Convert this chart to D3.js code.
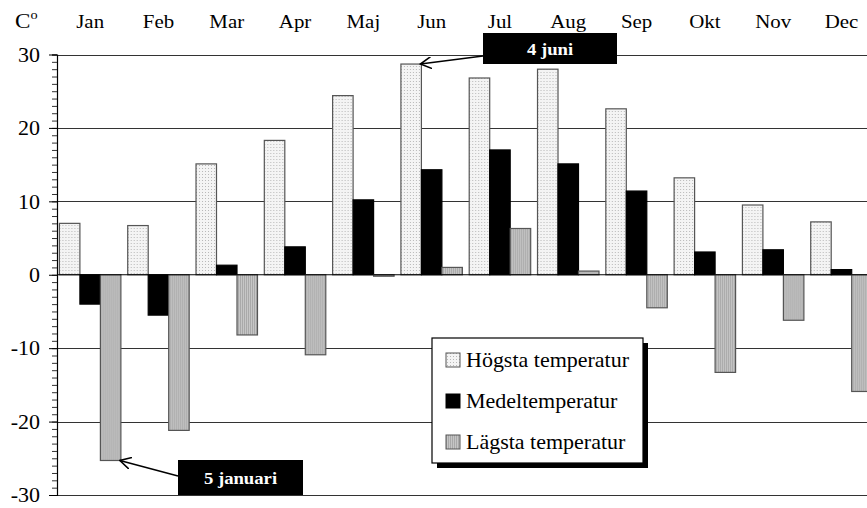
<!DOCTYPE html>
<html>
<head>
<meta charset="utf-8">
<script src="https://cdn.jsdelivr.net/npm/d3@7"></script>
<style>
  body { margin: 0; background: #fff; }
  svg { display: block; }
  svg text { font-family: "Liberation Serif", "Times New Roman", serif; }
</style>
</head>
<body>
<div id="chart"></div>
<script>
// Data.
const months = ["Jan", "Feb", "Mar", "Apr", "Maj", "Jun", "Jul", "Aug", "Sep", "Okt", "Nov", "Dec"];
const seriesNames = ["Högsta temperatur", "Medeltemperatur", "Lägsta temperatur"];
const highTemps = [7.0, 6.7, 15.1, 18.3, 24.4, 28.7, 26.8, 28.0, 22.6, 13.2, 9.5, 7.2];
const meanTemps = [-4.0, -5.5, 1.3, 3.8, 10.2, 14.3, 17.0, 15.1, 11.4, 3.1, 3.4, 0.7];
const lowTemps = [-25.3, -21.2, -8.2, -10.9, -0.2, 1.0, 6.3, 0.5, -4.5, -13.3, -6.2, -15.9];
const yTicks = [-30, -20, -10, 0, 10, 20, 30];
const notes = [
  { text: "4 juni", month: "Jun", series: 0, value: 28.7 },
  { text: "5 januari", month: "Jan", series: 2, value: -25.3 }
];

const width = 867, height = 508;
const serif = "Liberation Serif";
const stretch = 1.1; // text in the original is slightly wide

const svg = d3.select("#chart").append("svg")
  .attr("width", width)
  .attr("height", height)
  .attr("font-family", serif);

// Helper: text placed at (x, y), stretched horizontally.
const addText = (parent, x, y, str, size) => parent.append("text")
  .attr("transform", `translate(${x},${y}) scale(${stretch},1)`)
  .attr("font-family", serif)
  .attr("font-size", size)
  .text(str);

// Patterns for the bar fills.
const defs = svg.append("defs");
const dots = defs.append("pattern")
  .attr("id", "dots").attr("width", 3).attr("height", 3)
  .attr("patternUnits", "userSpaceOnUse");
dots.append("rect").attr("width", 3).attr("height", 3).attr("fill", "#f4f4f4");
dots.append("rect").attr("width", 1).attr("height", 1).attr("fill", "#b8b8b8");
const grey = defs.append("pattern")
  .attr("id", "grey").attr("width", 2).attr("height", 2)
  .attr("patternUnits", "userSpaceOnUse");
grey.append("rect").attr("width", 2).attr("height", 2).attr("fill", "#c6c6c6");
grey.append("rect").attr("width", 1).attr("height", 2).attr("fill", "#a9a9a9");

const fills = ["url(#dots)", "#000", "url(#grey)"];
const strokes = ["#555", "#000", "#555"];

// Scales.
const axisX = 57;
const xScale = d3.scaleBand()
  .domain(months)
  .range([56, 56 + 12 * 68.3])
  .paddingInner(0.1)
  .paddingOuter(0.05);
const xSeries = d3.scaleBand()
  .domain(d3.range(3))
  .range([0, xScale.bandwidth()]);
const yScale = d3.scaleLinear()
  .domain([-30, 30])
  .range([495, 54.5]);

// Gridlines.
svg.append("g")
  .selectAll("line")
  .data(yTicks.filter(d => d !== 0))
  .join("line")
  .attr("x1", axisX).attr("x2", width)
  .attr("y1", d => Math.round(yScale(d)) + 0.5)
  .attr("y2", d => Math.round(yScale(d)) + 0.5)
  .attr("stroke", "#333")
  .attr("stroke-width", 1.2);

// Bars.
const rows = months.map((m, i) => [highTemps[i], meanTemps[i], lowTemps[i]].map((v, s) => ({ month: m, s, v })));
svg.append("g")
  .selectAll("g")
  .data(rows)
  .join("g")
  .attr("transform", d => `translate(${xScale(d[0].month)},0)`)
  .selectAll("rect")
  .data(d => d)
  .join("rect")
  .attr("x", d => xSeries(d.s))
  .attr("width", xSeries.bandwidth())
  .attr("y", d => yScale(Math.max(0, d.v)))
  .attr("height", d => Math.abs(yScale(d.v) - yScale(0)))
  .attr("fill", d => fills[d.s])
  .attr("stroke", d => strokes[d.s])
  .attr("stroke-width", 1.2);

// Zero line.
svg.append("line")
  .attr("x1", axisX).attr("x2", width)
  .attr("y1", yScale(0)).attr("y2", yScale(0))
  .attr("stroke", "#000")
  .attr("stroke-width", 1.2);

// Y-axis: minor ticks every degree, labels every ten.
svg.append("g")
  .attr("transform", `translate(${axisX},0)`)
  .call(d3.axisLeft(yScale).tickValues(d3.range(-30, 31, 1)).tickSize(5).tickFormat(""))
  .call(g => g.select(".domain").attr("stroke-width", 1.2))
  .call(g => g.selectAll(".tick line").attr("stroke", "#333"));

svg.append("g")
  .attr("transform", `translate(${axisX},0)`)
  .call(d3.axisLeft(yScale).tickValues(yTicks).tickSize(8).tickPadding(7.5).tickFormat(d => String(d)))
  .call(g => g.select(".domain").remove())
  .call(g => g.attr("font-family", serif).attr("font-size", 20))
  .call(g => g.selectAll(".tick text")
    .attr("transform", `scale(${stretch},1)`)
    .attr("dy", "0.34em")
    .attr("fill", "#000"));

// Month labels on top.
svg.append("g")
  .selectAll("g")
  .data(months)
  .join("g")
  .each(function (d) {
    addText(d3.select(this), xScale(d) + xScale.bandwidth() / 2, 28, d, 19)
      .attr("text-anchor", "middle");
  });

// Unit label.
const unit = addText(svg, 15, 28, null, 21);
unit.append("tspan").text("C");
unit.append("tspan").attr("dy", -9).attr("font-size", 13).text("o");

// Legend.
const legend = svg.append("g").attr("transform", "translate(432,338)");
legend.append("rect")
  .attr("x", 5).attr("y", 5).attr("width", 211).attr("height", 125)
  .attr("fill", "#000");
legend.append("rect")
  .attr("width", 211).attr("height", 125)
  .attr("fill", "#fff").attr("stroke", "#000").attr("stroke-width", 1.2);
seriesNames.forEach((name, i) => {
  const yRow = 29 + i * 41;
  legend.append("rect")
    .attr("x", 14).attr("y", yRow - 14).attr("width", 14).attr("height", 14)
    .attr("fill", fills[i]).attr("stroke", strokes[i]).attr("stroke-width", 1);
  addText(legend, 34, yRow, name, 20);
});

// Annotations with arrows.
defs.append("marker")
  .attr("id", "arrow")
  .attr("viewBox", "0 0 12 12")
  .attr("refX", 11).attr("refY", 6)
  .attr("markerWidth", 12).attr("markerHeight", 12)
  .attr("markerUnits", "userSpaceOnUse")
  .attr("orient", "auto")
  .append("path")
  .attr("d", "M0,0 L11,6 L0,12")
  .attr("fill", "none")
  .attr("stroke", "#000")
  .attr("stroke-width", 1.6);

const noteBoxes = [
  { x: 483, y: 33, w: 134, h: 31, tailY: 56 },
  { x: 178, y: 460, w: 125, h: 35, tailY: 476 }
];
notes.forEach((n, i) => {
  const box = noteBoxes[i];
  const tipX = xScale(n.month) + xSeries(n.series) + xSeries.bandwidth() - 1;
  const tipY = yScale(n.value);
  svg.append("line")
    .attr("x1", box.x).attr("y1", box.tailY)
    .attr("x2", tipX).attr("y2", tipY)
    .attr("stroke", "#000").attr("stroke-width", 1.6)
    .attr("marker-end", "url(#arrow)");
  svg.append("rect")
    .attr("x", box.x).attr("y", box.y).attr("width", box.w).attr("height", box.h)
    .attr("fill", "#000");
  addText(svg, box.x + box.w / 2, box.y + box.h / 2 + 6, n.text, 17)
    .attr("text-anchor", "middle")
    .attr("font-weight", "bold")
    .attr("fill", "#fff");
});
</script>
</body>
</html>
